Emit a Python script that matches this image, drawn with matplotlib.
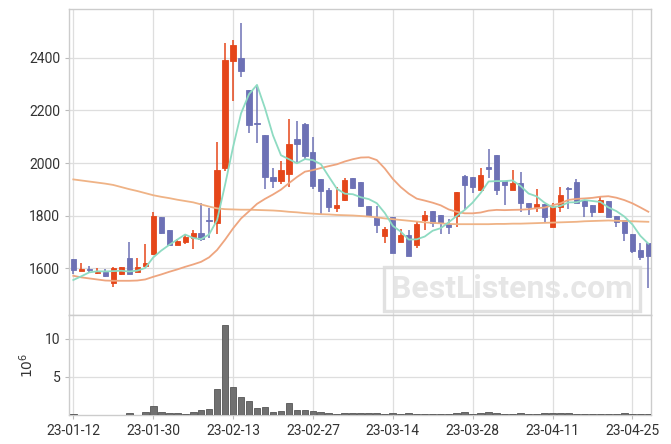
import numpy as np
import pandas as pd
import matplotlib
matplotlib.use('Agg')
import matplotlib.pyplot as plt

plt.rcParams['font.family'] = ['Roboto', 'DejaVu Sans']

# ---- data ----
dates = pd.bdate_range('2023-01-12', '2023-04-27', freq='C',
                       holidays=['2023-01-23', '2023-01-24', '2023-03-01'])

open_ = [1634, 1591, 1597, 1581, 1586, 1546, 1580, 1638, 1587, 1610,
         1654, 1797, 1744, 1689, 1700, 1716, 1733, 1784, 1773, 1982,
         2389, 2401, 2276, 2152, 2105, 1949, 1933, 1957, 2091, 2148,
         2042, 1939, 1897, 1830, 1860, 1942, 1927, 1837, 1794, 1723,
         1794, 1702, 1726, 1689, 1782, 1818, 1803, 1769, 1799, 1952,
         1947, 1898, 1987, 2032, 1933, 1896, 1924, 1848, 1832, 1845,
         1759, 1835, 1905, 1929, 1860, 1841, 1816, 1857, 1799, 1782,
         1731, 1670, 1695]
close = [1594, 1597, 1595, 1587, 1570, 1600, 1604, 1580, 1604, 1620,
         1799, 1734, 1689, 1703, 1719, 1733, 1710, 1780, 1973, 2391,
         2448, 2351, 2146, 2149, 1948, 1933, 1973, 2071, 2071, 2028,
         1914, 1895, 1834, 1841, 1935, 1904, 1837, 1799, 1763, 1750,
         1660, 1726, 1648, 1769, 1802, 1771, 1774, 1759, 1891, 1915,
         1911, 1956, 1978, 1898, 1915, 1924, 1850, 1835, 1845, 1794,
         1835, 1878, 1901, 1848, 1837, 1816, 1860, 1797, 1778, 1733,
         1667, 1644, 1648]
high = [1634, 1619, 1610, 1603, 1597, 1604, 1606, 1701, 1638, 1694,
        1815, 1797, 1745, 1710, 1727, 1746, 1849, 1828, 2082, 2455,
        2466, 2531, 2276, 2296, 2105, 1982, 2009, 2166, 2160, 2151,
        2098, 1939, 1904, 1910, 1942, 1944, 1929, 1837, 1837, 1759,
        1794, 1749, 1746, 1780, 1818, 1818, 1803, 1787, 1891, 1956,
        1947, 1981, 2053, 2032, 1933, 1972, 1968, 1848, 1901, 1845,
        1848, 1909, 1911, 1939, 1860, 1841, 1871, 1857, 1799, 1782,
        1731, 1698, 1695]
low = [1577, 1591, 1584, 1578, 1566, 1530, 1575, 1578, 1585, 1608,
       1651, 1729, 1686, 1688, 1691, 1672, 1706, 1714, 1730, 1970,
       2235, 2328, 2113, 2075, 1901, 1904, 1919, 1910, 2005, 2011,
       1901, 1805, 1815, 1815, 1857, 1900, 1832, 1797, 1733, 1698,
       1657, 1700, 1648, 1679, 1746, 1759, 1731, 1730, 1759, 1822,
       1886, 1895, 1943, 1879, 1841, 1896, 1813, 1803, 1816, 1778,
       1756, 1816, 1825, 1848, 1797, 1797, 1810, 1794, 1759, 1705,
       1657, 1632, 1524]
volume = [0.15, 0, 0, 0, 0, 0, 0, 0.2, 0, 0.4,
          1.2, 0.4, 0.3, 0.3, 0.1, 0.35, 0.65, 0.8, 3.35, 11.8,
          3.7, 2.3, 1.8, 0.9, 1.0, 0.4, 0.5, 1.55, 0.65, 0.65,
          0.5, 0.35, 0.2, 0.1, 0.2, 0.2, 0.2, 0.2, 0.2, 0.1,
          0.2, 0.1, 0.2, 0.1, 0.1, 0.1, 0.1, 0.1, 0.2, 0.35,
          0.1, 0.2, 0.35, 0.2, 0.1, 0.1, 0.2, 0.1, 0.1, 0.2,
          0.2, 0.2, 0.2, 0.1, 0.1, 0.1, 0.1, 0.1, 0.1, 0.25,
          0.1, 0.1, 0.1]

# moving-average values before a full window is available
ma5_head = [1556, 1570, 1585, 1589]
ma20_head = [1572, 1566, 1562, 1558, 1554, 1553, 1553, 1553, 1554, 1558,
             1568, 1577, 1587, 1596, 1606, 1615, 1625, 1642, 1670]
# long moving average
ma_long = [1938, 1934, 1930, 1926, 1922, 1917, 1909, 1901, 1894, 1886,
           1878, 1872, 1867, 1861, 1856, 1851, 1843, 1835, 1828, 1825,
           1824, 1823, 1823, 1822, 1821, 1820, 1818, 1815, 1813, 1810,
           1808, 1806, 1805, 1803, 1802, 1801, 1799, 1797, 1794, 1790,
           1787, 1784, 1781, 1778, 1775, 1773, 1771, 1769, 1768, 1768,
           1768, 1768, 1768, 1769, 1769, 1770, 1770, 1771, 1772, 1773,
           1774, 1775, 1776, 1777, 1779, 1780, 1781, 1782, 1781, 1780,
           1779, 1778, 1777]

price_ticks = [1600, 1800, 2000, 2200, 2400]
vol_ticks = [5, 10]

# ---- derived ----
n = len(close)
x = np.arange(n)
cs = pd.Series(close, dtype=float)
ma5 = cs.rolling(5).mean().to_numpy()
ma5[:len(ma5_head)] = ma5_head
ma20 = cs.rolling(20).mean().to_numpy()
ma20[:len(ma20_head)] = ma20_head

UP = '#e5461a'
DOWN = '#6d71b5'
GRID = '#dedede'
SPINE = '#cccccc'

fig = plt.figure(figsize=(6.71, 4.44), dpi=100)
ax = fig.add_axes([0.1033, 0.2905, 0.8665, 0.6885])
axv = fig.add_axes([0.1033, 0.0653, 0.8665, 0.2252], sharex=ax)

for a in (ax, axv):
    a.set_axisbelow(True)
    a.grid(True, color=GRID, lw=0.9)
    for s in a.spines.values():
        s.set_color(SPINE)
        s.set_linewidth(1.0)
    a.tick_params(colors='#333333', labelsize=10, length=3, width=0.8,
                  color='#bbbbbb')

# candles
for i in range(n):
    o, c, h, l = open_[i], close[i], high[i], low[i]
    col = UP if c >= o else DOWN
    ax.vlines(i, l, h, color=col, lw=1.1, zorder=2)
    ax.bar(i, c - o, bottom=o, width=0.65, color=col, edgecolor=col,
           lw=0.6, zorder=3)

ax.plot(x, ma_long, color='#efb386', lw=1.3, zorder=4)
ax.plot(x, ma20, color='#eea57f', lw=1.3, zorder=4)
ax.plot(x, ma5, color='#8edbc2', lw=1.3, zorder=5)

ax.set_ylim(1423, 2584)
ax.set_yticks(price_ticks)
ax.set_xlim(-0.5, 72.3)
ax.tick_params(axis='x', labelbottom=False, length=0)

# volume
axv.bar(x, volume, width=0.85, color='#707070', edgecolor='#555555', lw=0.6,
        zorder=3)
axv.set_ylim(0, 13.1)
axv.set_yticks(vol_ticks)
axv.set_ylabel('$10^{6}$', fontsize=10, color='#333333', labelpad=6)

tick_pos = list(range(0, n, 10))
axv.set_xticks(tick_pos)
axv.set_xticklabels([dates[i].strftime('%y-%m-%d') for i in tick_pos])

# watermark
ax.text(0.763, 0.349, 'BestListens.com', transform=fig.transFigure,
        ha='center', va='center', fontsize=23, fontweight='bold',
        color='#e2e2e2', alpha=0.85, zorder=1,
        bbox=dict(boxstyle='square,pad=0.22', fc='none', ec='#dcdcdc',
                  lw=2.4, alpha=0.85))

fig.savefig('out.png', dpi=100)
